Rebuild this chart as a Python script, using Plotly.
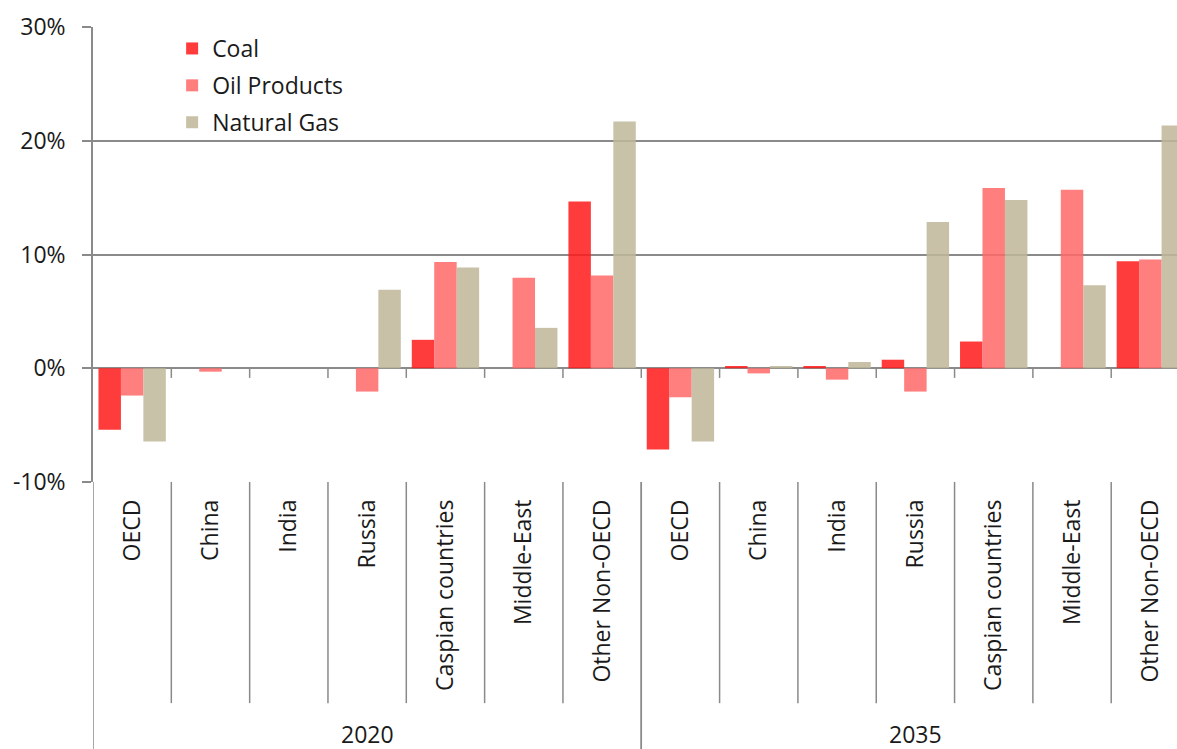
import plotly.graph_objects as go

# Change in regional fuel demand by scenario year
years = ["2020"] * 7 + ["2035"] * 7
regions = ["OECD", "China", "India", "Russia", "Caspian countries",
           "Middle-East", "Other Non-OECD"] * 2

coal = [-5.4, 0.0, 0.0, 0.0, 2.5, 0.0, 14.65,
        -7.15, 0.2, 0.2, 0.75, 2.35, 0.0, 9.4]
oil_products = [-2.4, -0.3, 0.0, -2.05, 9.35, 7.95, 8.15,
                -2.55, -0.45, -1.0, -2.05, 15.85, 15.7, 9.55]
natural_gas = [-6.45, 0.0, 0.0, 6.9, 8.85, 3.55, 21.7,
               -6.45, 0.2, 0.55, 12.85, 14.8, 7.3, 21.35]

y_ticks = [-10, 0, 10, 20, 30]

FONT = "Open Sans"
TEXT = "#1a1a1a"
GRID = "#8a8a8a"
ALPHA = 0.86

series = [
    ("Coal", coal, "rgb(255,28,28)"),
    ("Oil Products", oil_products, "rgb(255,106,106)"),
    ("Natural Gas", natural_gas, "rgb(191,184,154)"),
]

n_cat = len(regions)
pos = list(range(n_cat))

fig = go.Figure()
for name, vals, color in series:
    fig.add_trace(go.Bar(
        name=name,
        x=pos,
        y=vals,
        marker=dict(color=color, line=dict(width=0)),
        opacity=ALPHA,
        legendgroup=name,
    ))

# paper-y offsets (below the plot area) for the category-axis furniture
SEP_END = -0.486      # inner separators
DIV_END = -0.60       # year dividers run to the bottom edge
YEAR_Y = -0.553       # year labels

shapes = []
annotations = []

# separators between regions, short ticks on the zero line
for i in range(n_cat - 1):
    b = pos[i] + 0.5
    if years[i] == years[i + 1]:
        shapes.append(dict(type="line", xref="x", yref="paper",
                           x0=b, x1=b, y0=0, y1=SEP_END,
                           line=dict(color=GRID, width=1.5)))
    shapes.append(dict(type="line", xref="x", yref="y",
                       x0=b, x1=b, y0=0, y1=-0.85,
                       line=dict(color=GRID, width=1.5)))

# year group dividers and centred year labels
for yr in dict.fromkeys(years):
    idx = [p for p, y in zip(pos, years) if y == yr]
    for b in (idx[0] - 0.5, idx[-1] + 0.5):
        shapes.append(dict(type="line", xref="x", yref="paper",
                           x0=b, x1=b, y0=0, y1=DIV_END,
                           line=dict(color=GRID, width=1.5)))
    annotations.append(dict(x=sum(idx) / len(idx), y=YEAR_Y,
                            xref="x", yref="paper", text=yr,
                            showarrow=False, xanchor="center",
                            yanchor="middle",
                            font=dict(family=FONT, size=23, color=TEXT)))

fig.update_layout(
    width=1177,
    height=749,
    margin=dict(l=93, r=0, t=27, b=267),
    paper_bgcolor="white",
    plot_bgcolor="white",
    font=dict(family=FONT, size=23, color=TEXT),
    barmode="group",
    bargap=0.14,
    bargroupgap=0.0,
    showlegend=True,
    legend=dict(
        x=0.073, y=1.0, xanchor="left", yanchor="top",
        bgcolor="rgba(0,0,0,0)",
        font=dict(family=FONT, size=23, color=TEXT),
        traceorder="grouped",
        tracegroupgap=4,
    ),
    shapes=shapes,
    annotations=annotations,
    xaxis=dict(
        range=[-0.5, n_cat - 0.66],
        tickmode="array",
        tickvals=pos,
        ticktext=regions,
        tickangle=-90,
        ticks="",
        ticklabelstandoff=12,
        showgrid=False,
        showline=False,
        zeroline=False,
        tickfont=dict(family=FONT, size=23, color=TEXT),
    ),
    yaxis=dict(
        range=[-10, 30],
        tickvals=y_ticks,
        ticktext=[f"{v}%" for v in y_ticks],
        ticks="outside",
        ticklen=9,
        tickwidth=1.5,
        tickcolor=GRID,
        ticklabelstandoff=12,
        showline=True,
        linecolor=GRID,
        linewidth=1.5,
        showgrid=True,
        gridcolor=GRID,
        gridwidth=1.5,
        zeroline=True,
        zerolinecolor=GRID,
        zerolinewidth=1.5,
        tickfont=dict(family=FONT, size=23, color=TEXT),
    ),
)

fig.write_html("out.html")
